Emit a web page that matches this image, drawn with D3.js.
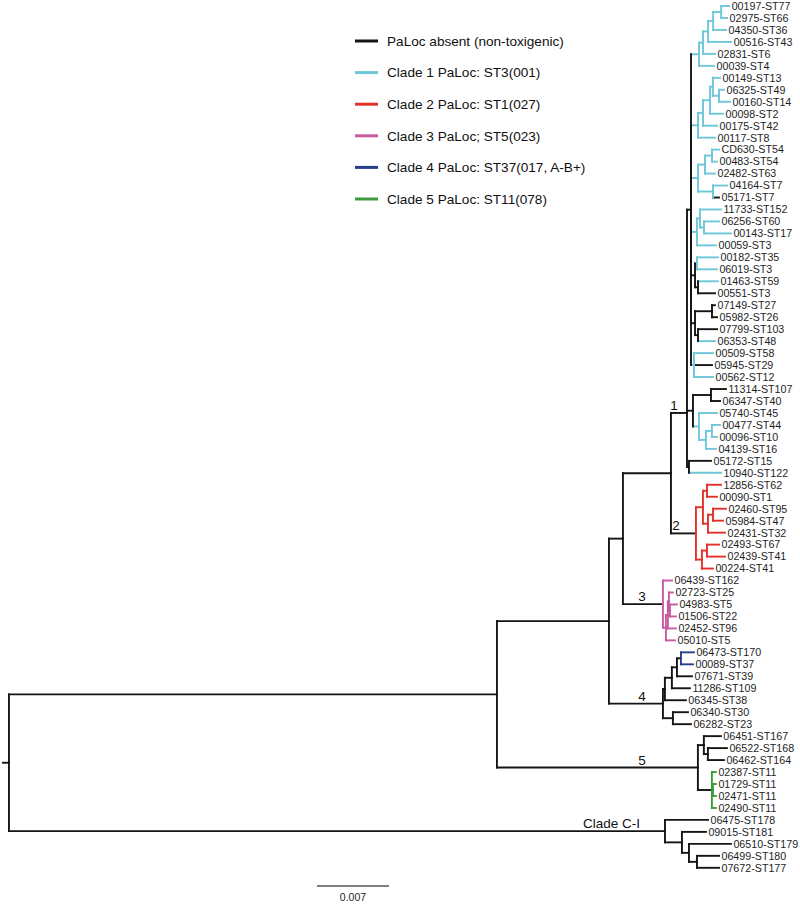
<!DOCTYPE html>
<html><head><meta charset="utf-8">
<script src="https://cdn.jsdelivr.net/npm/d3@7"></script>
<style>body{margin:0;background:#fff}</style>
</head><body>
<svg id="chart" width="800" height="904"></svg>
<script>
// ---------- DATA (branch lengths in 0.001 substitutions/site; leaf "|code" = PaLoc group) ----------
// PaLoc codes: 0 absent, 1 clade-1 PaLoc, 2 clade-2, 3 clade-3, 4 clade-4, 5 clade-5
// internal label flags: k = incoming branch without PaLoc, c = node carries clade-1 PaLoc, #id = clade id
const clade1Groups = [
  "(((((00197-ST77|1:0.78,02975-ST66|1:0.58):0.78,04350-ST36|1:1.26):0.49,00516-ST43|1:2.24):0.49,02831-ST6|1:1.17):0.39,00039-ST4|1:1.46):0.78",
  "((((00149-ST13|1:0.68,(06325-ST49|1:0.49,00160-ST14|1:1.07):0.58):0.29,00098-ST2|1:1.26):0.68,00175-ST42|1:1.36):0.49,00117-ST8|1:1.65):0.68",
  "(((CD630-ST54|1:0.68,00483-ST54|1:0.49):0.68,02482-ST63|1:0.97):0.68,(04164-ST7|1:1.36,05171-ST7|0:0.58)c:1.46):0.68",
  "((11733-ST152|1:2.04,(06256-ST60|1:1.46,00143-ST17|1:2.62):0.39):0.29,00059-ST3|1:1.85):0.58",
  "((00182-ST35|1:2.04,06019-ST3|1:1.94):0.19,(01463-ST59|1:1.94,00551-ST3|0:1.65):0.29):0.39",
  "((07149-ST27|0:0.29,05982-ST26|0:0.49):1.65,(07799-ST103|0:1.85,06353-ST48|1:1.65):0.29):0.39",
  "(00509-ST58|1:1.85,05945-ST29|0:1.75,00562-ST12|1:1.85)c:0.29"
];
const clade1Lower = [
  "((11314-ST107|0:1.46,06347-ST40|0:0.88):1.75,(05740-ST45|1:1.75,((00477-ST44|1:0.78,00096-ST10|1:0.49):0.58,04139-ST16|1:0.97):0.68):0.58):0.58",
  "(05172-ST15|0:2.14,10940-ST122|1:3.11):0.19"
];
const clade1UpperLength = 0.39;
const clade2 = "(((12856-ST62|2:1.36,00090-ST1|2:0.97):0.39,((02460-ST95|2:1.26,05984-ST47|2:0.97):0.49,02431-ST32|2:1.65):0.49):0.68,((02493-ST67|2:1.17,02439-ST41|2:1.75):0.49,00224-ST41|2:1.07):0.58)k#c2";
const clade3 = "(06439-ST162|3:0.88,(((02723-ST25|3:0.39,(04983-ST5|3:0.68,01506-ST22|3:0.58):0.10):0.10,02452-ST96|3:0.78):0.19,05010-ST5|3:0.88):0.29)k#c3";
const clade4 = "(((((06473-ST170|4:1.26,00089-ST37|4:1.17)k:0.39,07671-ST39|0:1.46):0.49,11286-ST109|0:1.75):0.68,06345-ST38|0:2.04):0.19,(06340-ST30|0:1.46,06282-ST23|0:1.75):0.97)#c4";
const clade5 = "((06451-ST167|0:1.65,(06522-ST168|0:1.85,06462-ST164|0:1.56):0.39):0.58,(02387-ST11|5:0.39,(01729-ST11|5:0.29,02471-ST11|5:0.29):0.10,02490-ST11|5:0.39)k:1.36)#c5";
const cladeCI = "(06475-ST178|0:4.18,(09015-ST181|0:2.33,(06510-ST179|0:4.08,(06499-ST180|0:2.14,07672-ST177|0:2.14):0.78):0.68):1.65)#cI";
// backbone branch lengths
const backboneLengths = { c1: 1.56, c2: 2.43, d: 4.67, c3: 3.89, c: 1.36, c4: 5.25, b: 10.89, c5: 19.54, a: 47.44, cI: 63.78, root: 0.58 };
// clade annotations: id, text, position along branch (0.001 subst/site)
const cladeLabelIds = ["c1", "c2", "c3", "c4", "c5", "cI"];
const cladeLabelTexts = ["1", "2", "3", "4", "5", "Clade C-I"];
const cladeLabelDepths = [65.24, 65.43, 62.12, 62.12, 62.12, 59.16];
// the clade 1 branch meets its node at the level of this leaf row
const joinRowIds = ["c1"];
const joinRows = [34];
const legendLabels = ["PaLoc absent (non-toxigenic)", "Clade 1 PaLoc: ST3(001)", "Clade 2 PaLoc: ST1(027)",
  "Clade 3 PaLoc; ST5(023)", "Clade 4 PaLoc: ST37(017, A-B+)", "Clade 5 PaLoc: ST11(078)"];
const scaleBarValue = 7;       // 0.007
const scaleBarLabel = "0.007";

// ---------- BUILD ----------
const clade1 = "(" + "(" + clade1Groups.join(",") + "):" + clade1UpperLength + "," + clade1Lower.join(",") + ")#c1";
const B = backboneLengths;
const newick = `(((((${clade1}:${B.c1},${clade2}:${B.c2}):${B.d},${clade3}:${B.c3}):${B.c},${clade4}:${B.c4}):${B.b},${clade5}:${B.c5}):${B.a},${cladeCI}:${B.cI}):${B.root};`;

function parseNewick(s) {
  let i = 0;
  function node() {
    const n = {};
    if (s[i] === "(") {
      i++; n.children = [node()];
      while (s[i] === ",") { i++; n.children.push(node()); }
      i++;
    }
    let lab = "";
    while (i < s.length && !"(),:;".includes(s[i])) lab += s[i++];
    n.label = lab.trim();
    let len = "";
    if (s[i] === ":") { i++; while (i < s.length && !"(),;".includes(s[i])) len += s[i++]; }
    n.length = len ? +len : 0;
    return n;
  }
  return node();
}

const colors = ["#151515", "#6ec6da", "#e2312b", "#c95a9f", "#263f8d", "#3c9b3c"];
const fontFam = "'Liberation Sans', Arial, Helvetica, sans-serif";

const root = d3.hierarchy(parseNewick(newick), d => d.children);
const x = d3.scaleLinear().domain([0, 7]).range([3, 75]);
const y = d3.scaleLinear().domain([0, 72]).range([6, 867.8]);

root.eachBefore(n => {
  n.dist = (n.parent ? n.parent.dist : 0) + n.data.length;
  const lab = n.data.label;
  if (!n.children) {
    const [name, code] = lab.split("|");
    n.name = name; n.code = +code; n.flags = ""; n.id = null;
  } else {
    const parts = lab.split("#");
    n.flags = parts[0] || ""; n.id = parts[1] || null;
  }
});
root.leaves().forEach((l, i) => { l.row = i; l.py = y(i); });
root.eachAfter(n => {
  n.px = x(n.dist);
  if (n.children) {
    n.py = (n.children[0].py + n.children[n.children.length - 1].py) / 2;
    const jr = joinRowIds.indexOf(n.id);
    if (jr >= 0) n.py = y(joinRows[jr]);
    const cs = new Set(n.children.map(c => c.code));
    n.code = n.flags.includes("c") ? 1 : (cs.size === 1 ? [...cs][0] : 0);
  }
  n.edgeCode = n.flags.includes("k") ? 0 : n.code;
});

const svg = d3.select("#chart");
svg.append("rect").attr("width", 800).attr("height", 904).attr("fill", "#fff");
const gT = svg.append("g").attr("fill", "none").attr("stroke-width", 1.9).attr("stroke-linecap", "square");

const links = root.links();
// horizontals (coloured by the child's branch)
gT.selectAll("line.h").data(links).join("line").attr("class", "h")
  .attr("x1", d => d.source.px).attr("x2", d => d.target.px)
  .attr("y1", d => d.target.py).attr("y2", d => d.target.py)
  .attr("stroke", d => colors[d.target.edgeCode]);
// verticals (coloured by the parent node)
gT.selectAll("line.v").data(links).join("line").attr("class", "v")
  .attr("x1", d => d.source.px).attr("x2", d => d.source.px)
  .attr("y1", d => d.source.py).attr("y2", d => d.target.py)
  .attr("stroke", d => colors[d.source.code]);
// root stub
gT.append("line").attr("x1", x(0)).attr("x2", root.px).attr("y1", root.py).attr("y2", root.py).attr("stroke", colors[0]);

// leaf labels
svg.append("g").selectAll("text").data(root.leaves()).join("text")
  .attr("x", d => d.px + 2.5).attr("y", d => d.py).attr("dy", "0.36em")
  .attr("font-family", fontFam).attr("font-size", 10.7).attr("fill", "#1e1e1e")
  .text(d => d.name);

// clade labels
const cladeNodes = {};
root.each(n => { if (n.id) cladeNodes[n.id] = n; });
svg.append("g").selectAll("text").data(cladeLabelIds).join("text")
  .attr("x", (d, i) => x(cladeLabelDepths[i])).attr("y", d => cladeNodes[d].py - 3)
  .attr("text-anchor", "middle").attr("font-family", fontFam).attr("font-size", 13.5).attr("fill", "#111")
  .text((d, i) => cladeLabelTexts[i]);

// legend
const ly = d3.scaleLinear().domain([0, 5]).range([41, 199]);
const lg = svg.append("g");
lg.selectAll("line").data(legendLabels).join("line")
  .attr("x1", 355).attr("x2", 378).attr("y1", (d, i) => ly(i)).attr("y2", (d, i) => ly(i))
  .attr("stroke", (d, i) => colors[i]).attr("stroke-width", 3);
lg.selectAll("text").data(legendLabels).join("text")
  .attr("x", 387).attr("y", (d, i) => ly(i)).attr("dy", "0.36em")
  .attr("font-family", fontFam).attr("font-size", 13.6).attr("fill", "#111").text(d => d);

// scale bar
const sbX = 317, sbY = 886;
svg.append("line").attr("x1", sbX).attr("x2", sbX + x(scaleBarValue) - x(0))
  .attr("y1", sbY).attr("y2", sbY).attr("stroke", "#555").attr("stroke-width", 1.5);
svg.append("text").attr("x", sbX + (x(scaleBarValue) - x(0)) / 2).attr("y", 901)
  .attr("text-anchor", "middle").attr("font-family", fontFam).attr("font-size", 10.5).attr("fill", "#222")
  .text(scaleBarLabel);
</script>
</body></html>
